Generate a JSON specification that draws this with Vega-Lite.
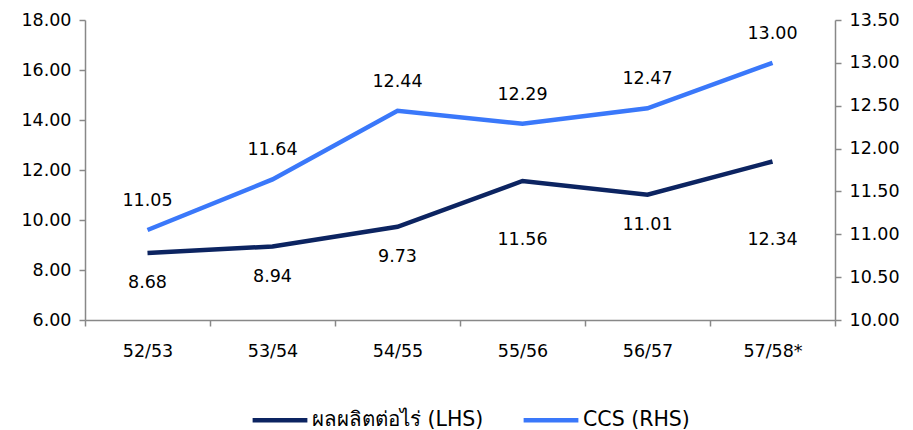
{
  "$schema": "https://vega.github.io/schema/vega-lite/v6.json",
  "width": 750,
  "height": 300,
  "autosize": "none",
  "padding": {"left": 85, "top": 20, "right": 78, "bottom": 110},
  "background": "white",
  "config": {
    "view": {"stroke": null},
    "font": "DejaVu Sans",
    "axis": {"labelFont": "DejaVu Sans", "labelFontSize": 17.5, "labelColor": "#000000", "domainColor": "#888888", "tickColor": "#888888", "domainWidth": 1.5, "tickWidth": 1.5, "grid": false, "title": null}
  },
  "data": {"values": [
    {"season": "52/53", "yield": 8.68, "ccs": 11.05},
    {"season": "53/54", "yield": 8.94, "ccs": 11.64},
    {"season": "54/55", "yield": 9.73, "ccs": 12.44},
    {"season": "55/56", "yield": 11.56, "ccs": 12.29},
    {"season": "56/57", "yield": 11.01, "ccs": 12.47},
    {"season": "57/58*", "yield": 12.34, "ccs": 13.00}
  ]},
  "encoding": {
    "x": {"field": "season", "type": "ordinal", "bandPosition": 0.5,
      "scale": {"type": "band", "paddingInner": 0, "paddingOuter": 0},
      "axis": {"labelAngle": 0, "tickBand": "extent", "tickSize": 6, "labelPadding": 16, "title": null}}
  },
  "layer": [
    {
      "layer": [
        {"mark": {"type": "line", "strokeWidth": 4.5},
         "encoding": {
           "y": {"field": "yield", "type": "quantitative", "scale": {"domain": [6, 18], "nice": false, "zero": false},
             "axis": {"values": [6, 8, 10, 12, 14, 16, 18], "format": ".2f", "tickSize": 6, "labelPadding": 8, "orient": "left"}},
           "color": {"datum": "ผลผลิตต่อไร่ (LHS)", "type": "nominal",
             "scale": {"domain": ["ผลผลิตต่อไร่ (LHS)", "CCS (RHS)"], "range": ["#0C2461", "#3A78FA"]},
             "legend": {"orient": "none", "legendX": 165, "legendY": 370, "padding": 0, "direction": "horizontal", "title": null, "symbolType": "stroke", "symbolSize": 3000, "symbolStrokeWidth": 4.5, "labelFontSize": 20.5, "labelFont": "DejaVu Sans", "labelColor": "#000000", "labelOffset": 2, "columnPadding": 30, "labelLimit": 300}}
         }},
        {"transform": [{"filter": "indexof(['52/53','53/54','54/55','56/57'], datum.season) >= 0"}],
         "mark": {"type": "text", "fontSize": 17.5, "color": "#000000", "dy": 30},
         "encoding": {"y": {"field": "yield", "type": "quantitative"}, "text": {"field": "yield", "type": "quantitative", "format": ".2f"}}},
        {"transform": [{"filter": "datum.season == '55/56'"}],
         "mark": {"type": "text", "fontSize": 17.5, "color": "#000000", "dy": 59},
         "encoding": {"y": {"field": "yield", "type": "quantitative"}, "text": {"field": "yield", "type": "quantitative", "format": ".2f"}}},
        {"transform": [{"filter": "datum.season == '57/58*'"}],
         "mark": {"type": "text", "fontSize": 17.5, "color": "#000000", "dy": 78},
         "encoding": {"y": {"field": "yield", "type": "quantitative"}, "text": {"field": "yield", "type": "quantitative", "format": ".2f"}}}
      ]
    },
    {
      "layer": [
        {"mark": {"type": "line", "strokeWidth": 4.5},
         "encoding": {
           "y": {"field": "ccs", "type": "quantitative", "scale": {"domain": [10, 13.5], "nice": false, "zero": false},
             "axis": {"values": [10, 10.5, 11, 11.5, 12, 12.5, 13, 13.5], "format": ".2f", "tickSize": 6, "labelPadding": 8, "orient": "right"}},
           "color": {"datum": "CCS (RHS)", "type": "nominal"}
         }},
        {"mark": {"type": "text", "fontSize": 17.5, "color": "#000000", "dy": -29},
         "encoding": {"y": {"field": "ccs", "type": "quantitative"}, "text": {"field": "ccs", "type": "quantitative", "format": ".2f"}}}
      ]
    }
  ],
  "resolve": {"scale": {"y": "independent"}}
}
